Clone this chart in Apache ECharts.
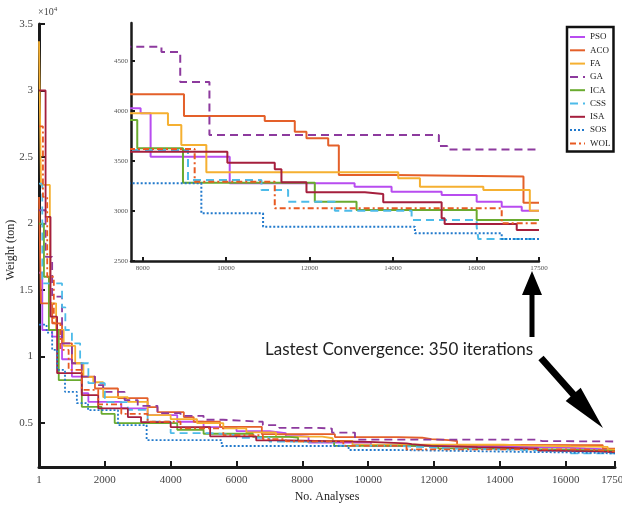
<!DOCTYPE html>
<html><head><meta charset="utf-8">
<script src="https://cdn.jsdelivr.net/npm/echarts@6/dist/echarts.min.js"></script>
<style>html,body{margin:0;padding:0;background:#fff}#c{width:622px;height:505px}</style>
</head><body><div id="c"></div>
<script>
const names = ['PSO','ACO','FA','GA','ICA','CSS','ISA','SOS','WOL'];

const PSO = [[1,16300],[100,12000],[400,11500],[700,9800],[1000,8500],[1300,7250],[1500,6600],[2500,6100],[3300,5600],[4200,5100],[5000,4700],[6000,4400],[7000,4250],[7500,4027],[7950,3977],[8190,3543],[10086,3277],[13080,3243],[13966,3193],[15166,3160],[16006,3093],[16606,3043],[17086,3003],[17500,3003]];
const ACO = [[1,22000],[60,14000],[400,12500],[700,11000],[1000,9500],[1300,8500],[1700,7600],[2400,6880],[3300,6200],[3600,5820],[4400,5450],[4700,5100],[5500,4720],[6770,4167],[8990,3950],[10926,3900],[11646,3793],[11926,3727],[12447,3655],[12702,3360],[14000,3345],[17128,3083],[17500,3083]];
const FA = [[1,33700],[60,22900],[330,14000],[520,12000],[750,10800],[1100,9500],[1350,8450],[1650,8070],[1950,6950],[2700,6600],[3300,5600],[4000,5300],[4800,5000],[5600,4600],[6300,4300],[7200,3977],[8606,3860],[8926,3660],[9526,3387],[14126,3327],[14646,3243],[16166,3210],[17280,3003],[17500,3003]];
const GA = [[1,21000],[200,17500],[400,14500],[700,11000],[1000,9500],[1300,8500],[1700,7850],[1950,7350],[2600,6730],[3000,6300],[3600,5750],[4300,5550],[5000,5250],[5600,5100],[6800,4850],[7300,4643],[8450,4590],[8900,4290],[9600,3760],[15100,3650],[15300,3615],[17500,3615]];
const ICA = [[1,20000],[150,16000],[300,12000],[600,8230],[1300,6220],[1900,5700],[2300,5000],[4200,4500],[5000,4200],[6500,3960],[7600,3910],[7870,3627],[8966,3283],[12126,3093],[13126,3010],[16006,2910],[17500,2910]];
const CSS = [[1,23000],[100,15500],[700,13700],[800,12000],[1000,11000],[1250,9500],[1500,8000],[2000,6570],[2700,6000],[3300,5100],[4000,4250],[5200,4100],[6000,3900],[7000,3610],[9086,3310],[10846,3210],[11486,3093],[12606,3003],[14446,2910],[16006,2843],[16046,2720],[17500,2720]];
const ISA = [[1,30000],[200,20500],[350,13000],[550,8750],[1300,7100],[1800,6100],[2700,5450],[3100,5070],[4000,4700],[5200,4000],[6600,3700],[7600,3593],[10030,3483],[11166,3417],[11326,3287],[11926,3187],[13326,3170],[13766,3087],[15166,2927],[15238,2870],[16966,2810],[17500,2810]];
const SOS = [[1,12400],[230,11800],[400,10500],[550,9000],[790,7350],[1150,6500],[1490,5970],[2400,4850],[3270,3720],[5550,3277],[9406,2977],[10886,2843],[14526,2777],[16606,2720],[17500,2720]];
const WOL = [[1,27300],[120,22000],[250,16000],[450,12500],[650,10500],[900,9000],[1300,7500],[1800,6400],[2500,5700],[3300,5100],[4300,4600],[5600,4100],[6800,3800],[7500,3620],[9246,3293],[11166,3027],[16606,2877],[17500,2877]];

const mainXTicks = [1,2000,4000,6000,8000,10000,12000,14000,16000,17500];
const mainYTicks = [5000,10000,15000,20000,25000,30000,35000];
const insetXTicks = [8000,10000,12000,14000,16000,17500];
const insetYTicks = [2500,3000,3500,4000,4500];

const seriesData = {PSO, ACO, FA, GA, ICA, CSS, ISA, SOS, WOL};
const styles = {
  PSO: {color:'#b84cf0', type:'solid'},
  ACO: {color:'#e4602a', type:'solid'},
  FA:  {color:'#f5b031', type:'solid'},
  GA:  {color:'#8d3a9e', type:[8,5]},
  ICA: {color:'#6aab2f', type:'solid'},
  CSS: {color:'#4dbbe9', type:[8,5]},
  ISA: {color:'#a51f3d', type:'solid'},
  SOS: {color:'#2179cc', type:[2,2]},
  WOL: {color:'#e85a22', type:[6,3,2,3]}
};

const serif = 'Liberation Serif';
const plain = v => String(v);
const series = [];
names.forEach(n => {
  series.push({name:n, type:'line', step:'end', symbol:'none', xAxisIndex:0, yAxisIndex:0,
    data: seriesData[n], clip:true,
    lineStyle:{color:styles[n].color, width:1.8, type:styles[n].type}, itemStyle:{color:styles[n].color}});
});
names.forEach(n => {
  series.push({name:n, type:'line', step:'end', symbol:'none', xAxisIndex:1, yAxisIndex:1,
    data: seriesData[n], clip:true,
    lineStyle:{color:styles[n].color, width:2, type:styles[n].type}, itemStyle:{color:styles[n].color}});
});

const chart = echarts.init(document.getElementById('c'), null, {renderer:'canvas'});
chart.setOption({
  animation:false,
  backgroundColor:'#fff',
  grid:[
    {left:39, top:24, width:576, height:443, containLabel:false, outerBoundsMode:'none'},
    {left:131, top:23, width:408, height:238, containLabel:false, outerBoundsMode:'none'}
  ],
  xAxis:[
    {type:'value', gridIndex:0, min:0, max:17500,
     name:'No. Analyses', nameLocation:'middle', nameGap:22,
     nameTextStyle:{fontFamily:serif, fontSize:12, color:'#222'},
     axisLine:{onZero:false, lineStyle:{color:'#1a1a1a', width:3}},
     axisTick:{inside:true, length:6, customValues:mainXTicks, lineStyle:{color:'#1a1a1a', width:2}},
     axisLabel:{customValues:mainXTicks, formatter:plain, fontFamily:serif, fontSize:11, color:'#444', margin:8},
     splitLine:{show:false}},
    {type:'value', gridIndex:1, min:7720, max:17500,
     axisLine:{onZero:false, lineStyle:{color:'#1a1a1a', width:2.5}},
     axisTick:{inside:true, length:4, customValues:insetXTicks, lineStyle:{color:'#1a1a1a', width:2}},
     axisLabel:{customValues:insetXTicks, formatter:plain, fontFamily:serif, fontSize:7, color:'#555', margin:4},
     splitLine:{show:false}}
  ],
  yAxis:[
    {type:'value', gridIndex:0, min:1700, max:35000,
     axisLine:{onZero:false, lineStyle:{color:'#1a1a1a', width:3}},
     axisTick:{inside:true, length:6, customValues:mainYTicks, lineStyle:{color:'#1a1a1a', width:2}},
     axisLabel:{customValues:mainYTicks, fontFamily:serif, fontSize:11, color:'#444', margin:6,
       formatter: v => String(v/10000)},
     splitLine:{show:false}},
    {type:'value', gridIndex:1, min:2500, max:4880,
     axisLine:{onZero:false, lineStyle:{color:'#1a1a1a', width:2.5}},
     axisTick:{inside:true, length:4, customValues:insetYTicks, lineStyle:{color:'#1a1a1a', width:2}},
     axisLabel:{customValues:insetYTicks, formatter:plain, fontFamily:serif, fontSize:7, color:'#555', margin:3},
     splitLine:{show:false}}
  ],
  legend:{
    data:names, orient:'vertical', left:567, top:27,
    itemWidth:15, itemHeight:10, itemGap:3.3,
    padding:[5,3,3,2], borderColor:'#111', borderWidth:2.5, backgroundColor:'#fff',
    textStyle:{fontFamily:serif, fontSize:9, color:'#222', lineHeight:10},
    itemStyle:{color:'rgba(0,0,0,0)', borderColor:'rgba(0,0,0,0)', borderWidth:0},
    lineStyle:{width:2},
    selectedMode:false
  },
  graphic:[
    {type:'text', x:11, y:250, rotation:Math.PI/2, style:{
      text:'Weight (ton)', fontFamily:serif, fontSize:12, fill:'#222', align:'center', verticalAlign:'middle'}},
    {type:'text', left:38, top:6, style:{
      text:'×10{s|4}', fontFamily:serif, fontSize:10, fill:'#444',
      rich:{s:{fontSize:7, verticalAlign:'top', padding:[0,0,5,0], fontFamily:serif, fill:'#444'}}}},
    {type:'text', left:265, top:341, style:{
      text:'Lastest Convergence: 350 iterations', font:'17px Lato', fontFamily:'Lato', fontSize:17, fill:'#222'}},
    {type:'polygon', shape:{points:[[529.5,337],[534.5,337],[534.5,295],[542,295],[532,271],[522,295],[529.5,295]]},
      style:{fill:'#000'}},
    {type:'polygon', shape:{points:[[543.6,355.7],[575.8,392.0],[580.7,387.7],[603,428],[565.7,400.9],[570.6,396.6],[538.4,360.3]]},
      style:{fill:'#000'}}
  ],
  series
});
</script></body></html>
